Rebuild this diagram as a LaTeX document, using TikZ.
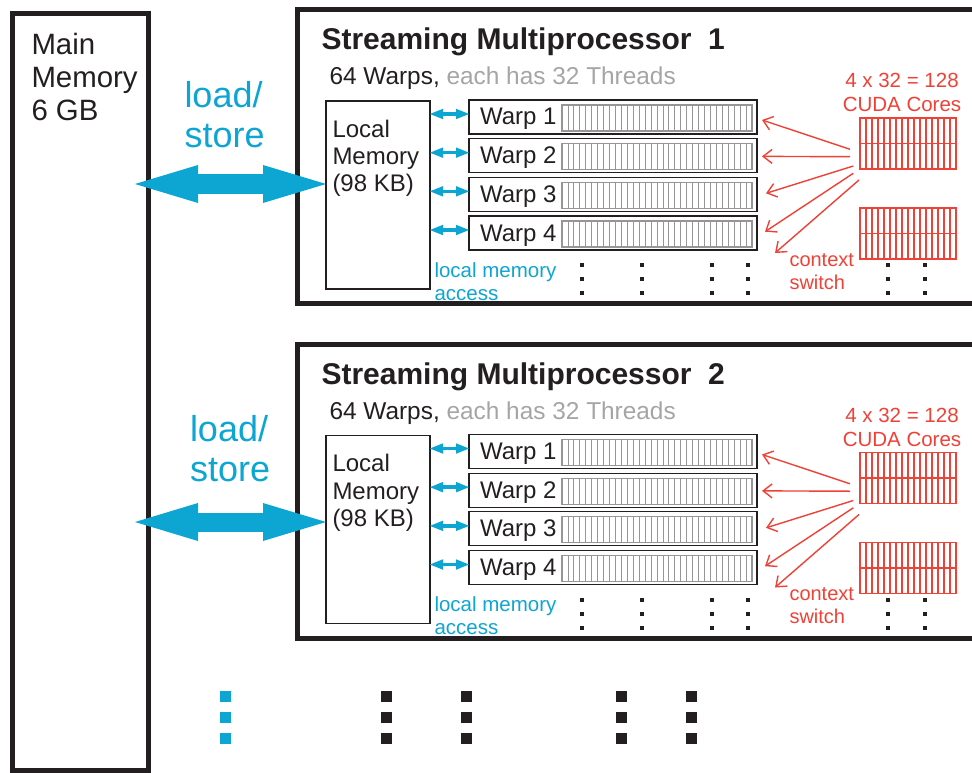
\documentclass[tikz,border=0pt]{standalone}
\usepackage{fontspec}
\setmainfont{Liberation Sans}
\usetikzlibrary{arrows.meta, positioning, calc}
\definecolor{memcyan}{RGB}{13,165,210}
\definecolor{corered}{RGB}{239,65,54}
\definecolor{inkblack}{RGB}{35,31,32}
\definecolor{threadgray}{RGB}{150,150,150}
\definecolor{labelgray}{RGB}{165,165,165}
\newcommand{\fsz}[2]{\fontsize{#1}{#2}\selectfont}

\begin{document}
\begin{tikzpicture}[x=1pt, y=-1pt,
    mainbox/.style={rectangle, draw=inkblack, line width=5pt, inner sep=0pt, outer sep=0pt},
    smbox/.style={rectangle, draw=inkblack, line width=5pt, inner sep=0pt, outer sep=0pt, minimum width=700, minimum height=294, anchor=north west},
    lmembox/.style={rectangle, draw=inkblack, line width=1.2pt, inner sep=0pt, outer sep=0pt, minimum width=104, minimum height=188},
    warpbox/.style={rectangle, draw=inkblack, line width=1.3pt, inner sep=0pt, outer sep=0pt, minimum width=288, minimum height=34},
    threadbox/.style={draw=threadgray, line width=1.2pt},
    threadline/.style={draw=threadgray, line width=0.8pt},
    corebox/.style={rectangle, draw=corered, line width=1.1pt, inner sep=0pt, outer sep=0pt, minimum width=96, minimum height=51},
    coreline/.style={draw=corered, line width=1.1pt},
    bigarrow/.style={{Triangle[length=63pt, width=38pt, line width=0pt]}-{Triangle[length=63pt, width=38pt, line width=0pt]}, draw=memcyan, line width=19pt},
    accessarrow/.style={{Triangle[length=13pt, width=10.5pt, line width=0pt]}-{Triangle[length=13pt, width=10.5pt, line width=0pt]}, draw=memcyan, line width=3.4pt},
    switcharrow/.style={-{Straight Barb[length=9pt, width=14pt]}, draw=corered, line width=1.4pt},
    txt/.style={inner sep=0pt, outer sep=0pt, text=inkblack}]

    \useasboundingbox (0,0) rectangle (972,773);

    % main memory
    \node[mainbox, minimum width=136, minimum height=757, anchor=north west] (mainmem) at (12.5,13.5) {};
    \node[txt, anchor=north west, align=left, font=\fsz{29.4}{33}] (mmtext) at (31.5,33) {Main\\Memory\\6 GB};

    % streaming multiprocessors
    \foreach \s/\dy/\ay/\lx in {1/0/184/184.5, 2/334.5/187.5/190} {
    \begin{scope}[yshift=-\dy pt]
        \node[smbox] (sm\s) at (297.5,9.5) {};
        \node[txt, anchor=base west, font=\bfseries\fsz{30}{36}] (title\s) at (321.5,50) {Streaming Multiprocessor\ \ \s};
        \node[txt, anchor=base west, font=\fsz{24.4}{29}] (warps\s) at (329.5,85) {64 Warps, \textcolor{labelgray}{each has 32 Threads}};

        \node[lmembox] (lmem\s) at (378,195) {};
        \node[txt, anchor=north west, align=left, font=\fsz{24}{27.3}] (lmemtext\s) at (332.5,120) {Local\\Memory\\(98 KB)};
        \node[txt, anchor=north west, align=left, text=memcyan, font=\fsz{36}{40}] (ls\s) at (\lx,81) {load/\\store};

        % warps with 32 threads each
        \foreach \w in {1,...,4} {
            \node[warpbox] (w\s\w) at (613,{117+38.67*(\w-1)}) {};
            \node[txt, anchor=base west, font=\fsz{24}{29}] at ($(w\s\w.west)+(11,8)$) {Warp \w};
            \draw[threadbox] ($(w\s\w.west)+(93,-12)$) rectangle ($(w\s\w.east)+(-5,14)$);
            \foreach \k in {1,...,31}
                \draw[threadline] ($(w\s\w.west)+({93+\k*5.9375},-12)$) -- ++(0,26);
            \draw[accessarrow] ($(lmem\s.east |- w\s\w.west)+(0,-3)$) -- ($(w\s\w.west)+(0,-3)$);
        }

        % cuda cores
        \node[corebox] (coreA\s) at (908,143.5) {};
        \node[corebox] (coreB\s) at (908,233.5) {};
        \foreach \c in {coreA\s, coreB\s} {
            \draw[coreline] (\c.west) -- (\c.east);
            \foreach \k in {1,...,15}
                \draw[coreline] ($(\c.north west)+(\k*6,0)$) -- ($(\c.south west)+(\k*6,0)$);
        }
        \node[txt, anchor=north, align=center, text=corered, font=\fsz{20.5}{24}] (ncores\s) at (902,73.3) {4 x 32 = 128\\CUDA Cores};

        % context switch
        \draw[switcharrow] ($(coreA\s.west)+(-10,5.8)$) -- ($(w\s1.east)+(5,3)$);
        \draw[switcharrow] ($(coreA\s.west)+(-10,13.2)$) -- ($(w\s2.east)+(5,0.7)$);
        \draw[switcharrow] ($(coreA\s.west)+(-6.7,22.5)$) -- ($(w\s3.east)+(9,-1)$);
        \draw[switcharrow] ($(coreA\s.west)+(-6.7,29.8)$) -- ($(w\s4.east)+(8,-1.3)$);
        \draw[switcharrow] ($(coreA\s.west)+(-1,36.5)$) -- ($(w\s4.east)+(18,20)$);
        \node[txt, anchor=north west, align=left, text=corered, font=\fsz{20}{23}] (switch\s) at (789.5,253.5) {context\\switch};
        \node[txt, anchor=north west, align=left, text=memcyan, font=\fsz{20.5}{23}] (access\s) at (434.5,262.3) {local memory\\access};

        % more warps / cores
        \foreach \x in {582,642,712,748,888,925}
            \foreach \y in {265,279,293}
                \fill[inkblack] (\x-2,\y-2) rectangle ++(4,4);

        % load/store
        \coordinate (lsin\s) at (lmem\s.west |- 0,\ay);
        \draw[bigarrow] ([xshift=-13.5pt]mainmem.east |- lsin\s) -- (lsin\s);
    \end{scope}
    }

    % more multiprocessors
    \foreach \x/\c in {225.5/memcyan, 386.5/inkblack, 466/inkblack, 621.5/inkblack, 691.5/inkblack}
        \foreach \y in {696.5,717.5,738.5}
            \fill[\c] (\x-5.5,\y-5.5) rectangle ++(11,11);

\end{tikzpicture}
\end{document}
